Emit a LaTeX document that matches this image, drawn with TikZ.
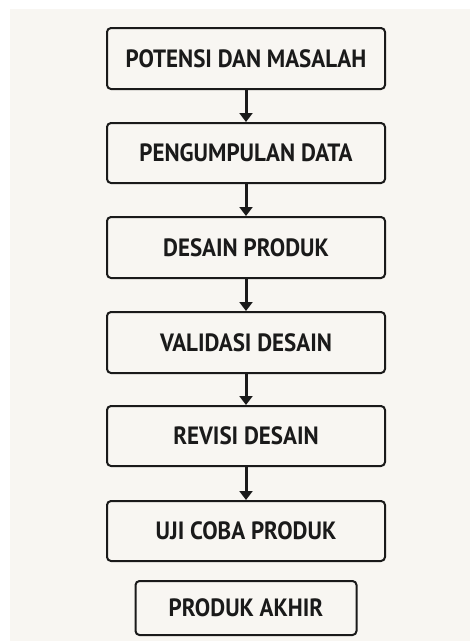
\documentclass[tikz,border=0pt]{standalone}
\usepackage{fontspec}
\setmainfont{PT Sans}
\newfontfamily\boxfont[FakeStretch=0.92]{PT Sans}
\usetikzlibrary{arrows.meta}
\definecolor{paper}{HTML}{F8F6F2}
\definecolor{ink}{HTML}{1A1A1A}
\tikzset{
  stepbox/.style={draw=ink, line width=2pt, rounded corners=4pt, fill=paper,
    inner sep=0pt, font=\boxfont\fontsize{25}{28}\selectfont\bfseries, text=ink},
  flow/.style={draw=ink, line width=3pt, -{Triangle[width=13pt,length=9pt]}},
}
\begin{document}
\begin{tikzpicture}[x=1pt,y=-1pt]
  \useasboundingbox (0,0) rectangle (470,641);
  \fill[white] (0,0) rectangle (470,641);
  \fill[paper] (10,9) rectangle (470,641);

  \node[stepbox, minimum width=278pt, minimum height=61pt] (s1) at (246,58.5) {POTENSI DAN MASALAH};
  \node[stepbox, minimum width=278pt, minimum height=60pt] (s2) at (246,153) {PENGUMPULAN DATA};
  \node[stepbox, minimum width=278pt, minimum height=61pt] (s3) at (246,247.5) {DESAIN PRODUK};
  \node[stepbox, minimum width=278pt, minimum height=61pt] (s4) at (246,342.5) {VALIDASI DESAIN};
  \node[stepbox, minimum width=278pt, minimum height=60pt] (s5) at (246,436) {REVISI DESAIN};
  \node[stepbox, minimum width=278pt, minimum height=60pt] (s6) at (246,531) {UJI COBA PRODUK};
  \node[stepbox, minimum width=221pt, minimum height=54pt] (s7) at (246,608) {PRODUK AKHIR};

  \draw[flow] (s1) -- (s2);
  \draw[flow] (s2) -- (s3);
  \draw[flow] (s3) -- (s4);
  \draw[flow] (s4) -- (s5);
  \draw[flow] (s5) -- (s6);
\end{tikzpicture}
\end{document}
